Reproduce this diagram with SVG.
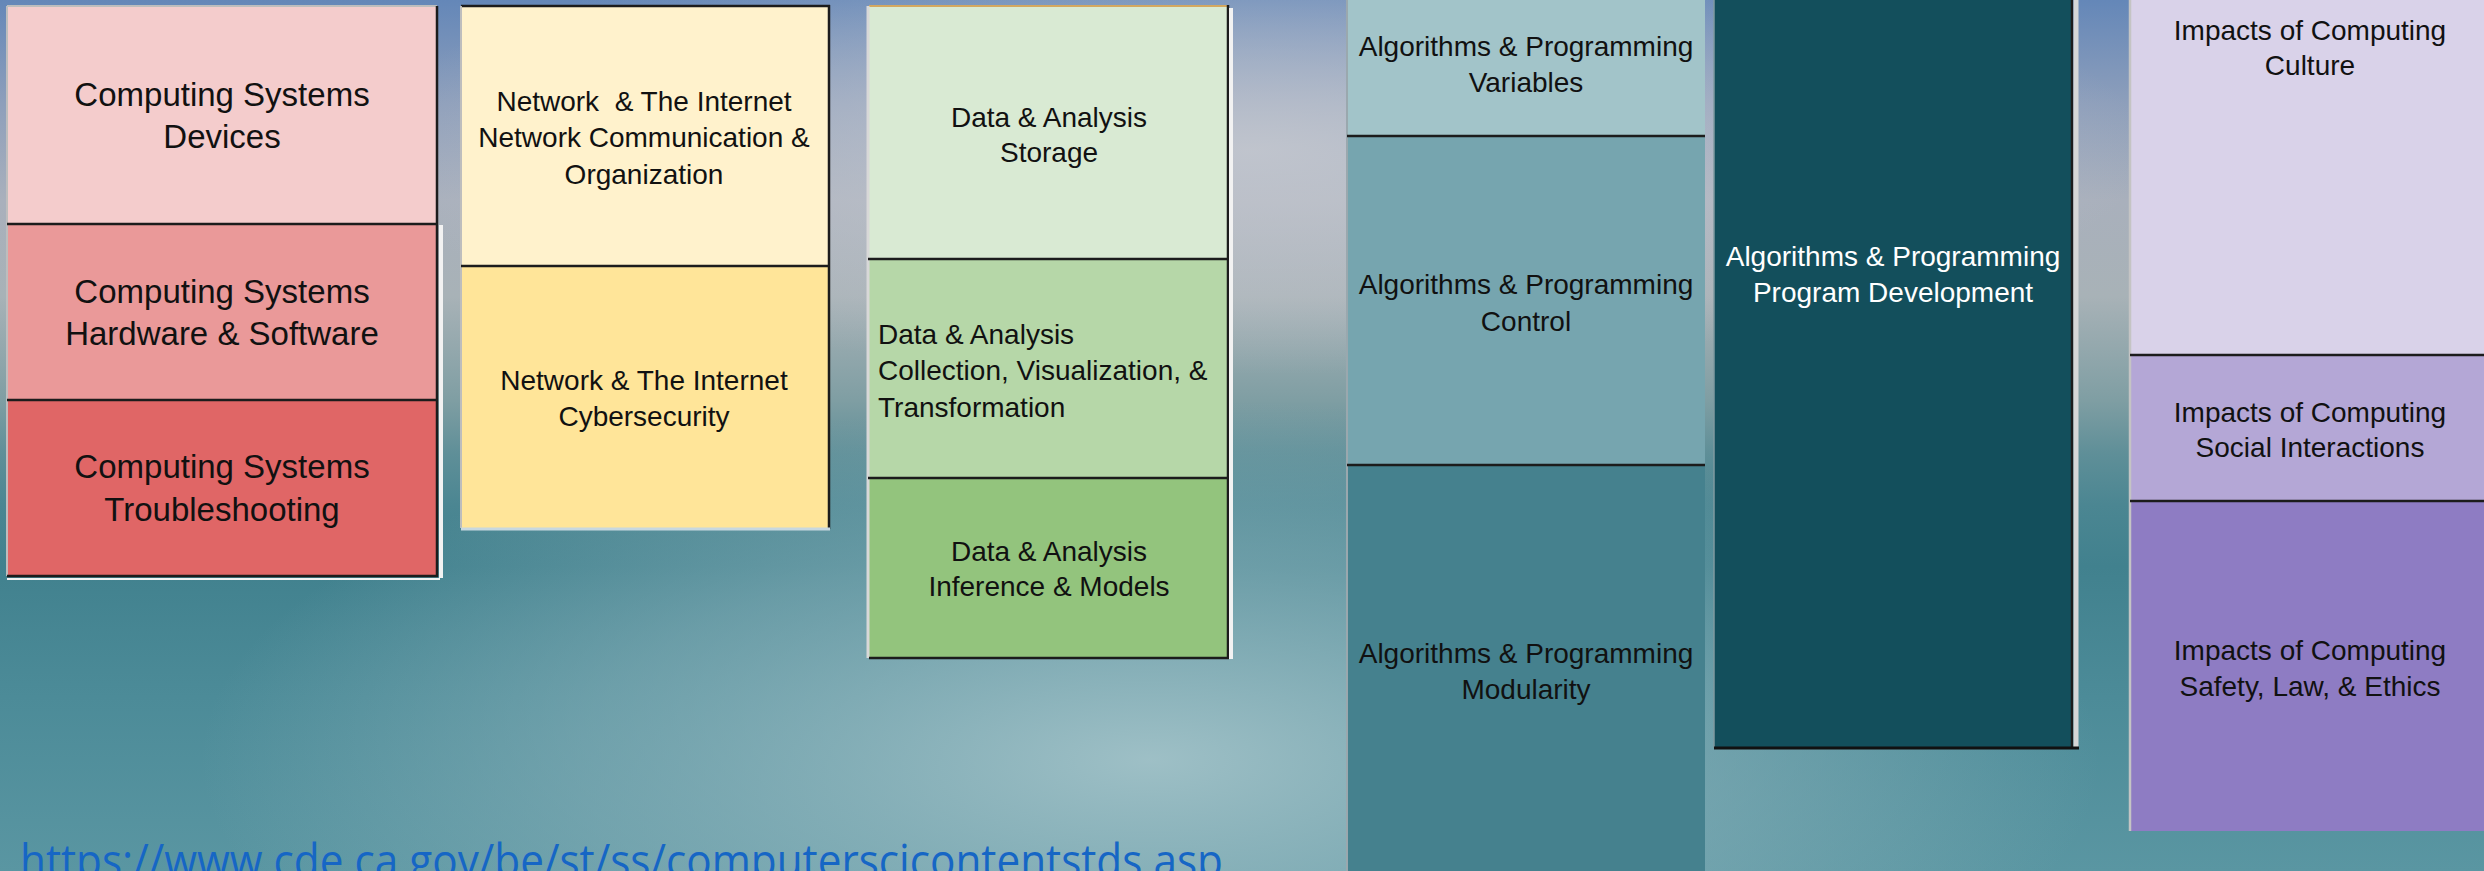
<svg xmlns="http://www.w3.org/2000/svg" width="2484" height="871" viewBox="0 0 2484 871">
<defs>
<linearGradient id="bg" x1="0" y1="0" x2="0" y2="871" gradientUnits="userSpaceOnUse">
<stop offset="0" stop-color="#6487b8"/>
<stop offset="0.12" stop-color="#8e9fbb"/>
<stop offset="0.23" stop-color="#a9b0bc"/>
<stop offset="0.34" stop-color="#a8b2b7"/>
<stop offset="0.46" stop-color="#7f9ea3"/>
<stop offset="0.52" stop-color="#5f8f98"/>
<stop offset="0.58" stop-color="#4b8692"/>
<stop offset="0.65" stop-color="#41818e"/>
<stop offset="0.8" stop-color="#4c8b98"/>
<stop offset="1" stop-color="#5a96a2"/>
</linearGradient>
<radialGradient id="hiTop" cx="1250" cy="150" r="900" gradientUnits="userSpaceOnUse" gradientTransform="translate(1250 150) scale(1 0.25) translate(-1250 -150)">
<stop offset="0" stop-color="#c6c9d0" stop-opacity="0.85"/>
<stop offset="1" stop-color="#c6c9d0" stop-opacity="0"/>
</radialGradient>
<radialGradient id="hiBot" cx="1150" cy="760" r="950" gradientUnits="userSpaceOnUse" gradientTransform="translate(1150 760) scale(1 0.38) translate(-1150 -760)">
<stop offset="0" stop-color="#a2c2c8" stop-opacity="0.95"/>
<stop offset="0.6" stop-color="#8fb4bc" stop-opacity="0.5"/>
<stop offset="1" stop-color="#8fb4bc" stop-opacity="0"/>
</radialGradient>
<style>
.t{font-family:"Liberation Sans",Arial,sans-serif;fill:#111;text-anchor:middle}
.f33{font-size:33px}
.f28{font-size:28px}
.w{fill:#fff}
.l{text-anchor:start}
.dk{stroke:#1c1c1c;stroke-width:2.5;fill:none}
.lt{stroke:#f2f2f2;stroke-width:4;fill:none}
.gr{stroke:#bdbdbd;stroke-width:2;fill:none}
</style>
</defs>
<g id="background">
<rect x="0" y="0" width="2484" height="871" fill="url(#bg)"/>
<rect x="0" y="0" width="2484" height="871" fill="url(#hiTop)"/>
<rect x="0" y="0" width="2484" height="871" fill="url(#hiBot)"/>
</g>

<g id="cs-devices">
<rect x="7" y="6" width="430" height="218" fill="#f4cccc"/>
<text class="t f33" x="222" y="106">Computing Systems</text>
<text class="t f33" x="222" y="148">Devices</text>
</g>
<g id="cs-hardware">
<rect x="7" y="224" width="430" height="176" fill="#ea9999"/>
<text class="t f33" x="222" y="303">Computing Systems</text>
<text class="t f33" x="222" y="345">Hardware &amp; Software</text>
</g>
<g id="cs-troubleshooting">
<rect x="7" y="400" width="430" height="176" fill="#e06666"/>
<text class="t f33" x="222" y="478">Computing Systems</text>
<text class="t f33" x="222" y="521">Troubleshooting</text>
</g>
<g id="cs-borders">
<line class="gr" x1="7" y1="6" x2="437" y2="6"/>
<line class="gr" x1="7" y1="6" x2="7" y2="576"/>
<line class="dk" x1="7" y1="224" x2="438" y2="224"/>
<line class="dk" x1="7" y1="400" x2="438" y2="400"/>
<line class="dk" x1="7" y1="576" x2="438" y2="576"/>
<line class="dk" x1="437" y1="6" x2="437" y2="577"/>
<line class="lt" x1="441" y1="225" x2="441" y2="578"/>
<line class="lt" x1="7" y1="579" x2="440" y2="579" style="stroke-width:2"/>
</g>

<g id="ni-communication">
<rect x="461" y="6" width="368" height="260" fill="#fff2cc"/>
<text class="t f28" x="644" y="111" xml:space="preserve">Network  &amp; The Internet</text>
<text class="t f28" x="644" y="147">Network Communication &amp;</text>
<text class="t f28" x="644" y="184">Organization</text>
</g>
<g id="ni-cybersecurity">
<rect x="461" y="266" width="368" height="262" fill="#ffe599"/>
<text class="t f28" x="644" y="390">Network &amp; The Internet</text>
<text class="t f28" x="644" y="426">Cybersecurity</text>
</g>
<g id="ni-borders">
<line class="dk" x1="461" y1="6" x2="830" y2="6"/>
<line class="gr" x1="461" y1="6" x2="461" y2="528"/>
<line class="dk" x1="461" y1="266" x2="830" y2="266"/>
<line class="dk" x1="829" y1="5" x2="829" y2="529"/>
<line x1="461" y1="529" x2="830" y2="529" stroke="#c8d8e0" stroke-width="3"/>
</g>

<g id="da-storage">
<rect x="869" y="6" width="359" height="253" fill="#d9ead3"/>
<text class="t f28" x="1049" y="127">Data &amp; Analysis</text>
<text class="t f28" x="1049" y="162">Storage</text>
</g>
<g id="da-collection">
<rect x="869" y="259" width="359" height="219" fill="#b6d7a8"/>
<text class="t f28 l" x="878" y="344">Data &amp; Analysis</text>
<text class="t f28 l" x="878" y="380">Collection, Visualization, &amp;</text>
<text class="t f28 l" x="878" y="417">Transformation</text>
</g>
<g id="da-inference">
<rect x="869" y="478" width="359" height="180" fill="#93c47d"/>
<text class="t f28" x="1049" y="561">Data &amp; Analysis</text>
<text class="t f28" x="1049" y="596">Inference &amp; Models</text>
</g>
<g id="da-borders">
<line x1="869" y1="6" x2="1229" y2="6" stroke="#d4a860" stroke-width="2"/>
<line class="lt" x1="868" y1="6" x2="868" y2="658" style="stroke:#d8d8d8;stroke-width:3"/>
<line class="dk" x1="868" y1="259" x2="1229" y2="259"/>
<line class="dk" x1="868" y1="478" x2="1229" y2="478"/>
<line class="dk" x1="869" y1="658" x2="1229" y2="658"/>
<line class="dk" x1="1228" y1="5" x2="1228" y2="659"/>
<line class="lt" x1="1231" y1="8" x2="1231" y2="659"/>
</g>

<g id="ap-variables">
<rect x="1347" y="0" width="358" height="136" fill="#a2c4c9"/>
<text class="t f28" x="1526" y="56">Algorithms &amp; Programming</text>
<text class="t f28" x="1526" y="92">Variables</text>
</g>
<g id="ap-control">
<rect x="1347" y="136" width="358" height="329" fill="#76a5af"/>
<text class="t f28" x="1526" y="294">Algorithms &amp; Programming</text>
<text class="t f28" x="1526" y="331">Control</text>
</g>
<g id="ap-modularity">
<rect x="1347" y="465" width="358" height="406" fill="#45818e"/>
<text class="t f28" x="1526" y="663">Algorithms &amp; Programming</text>
<text class="t f28" x="1526" y="699">Modularity</text>
</g>
<g id="ap-borders">
<line class="gr" x1="1347" y1="0" x2="1347" y2="871" style="stroke:#9aa8ae"/>
<line class="dk" x1="1347" y1="136" x2="1705" y2="136"/>
<line class="dk" x1="1347" y1="465" x2="1705" y2="465"/>
</g>

<g id="ap-program-development">
<rect x="1714" y="0" width="359" height="748" fill="#134f5c"/>
<text class="t f28 w" x="1893" y="266">Algorithms &amp; Programming</text>
<text class="t f28 w" x="1893" y="302">Program Development</text>
<line class="gr" x1="1714" y1="0" x2="1714" y2="748" style="stroke:#7f9aa0;stroke-width:1.5"/>
<line class="dk" x1="2072" y1="0" x2="2072" y2="749"/>
<line x1="2076" y1="0" x2="2076" y2="749" stroke="#d6d6d6" stroke-width="5"/>
<line x1="1714" y1="748" x2="2079" y2="748" stroke="#111" stroke-width="3"/>
</g>

<g id="ic-culture">
<rect x="2131" y="0" width="353" height="355" fill="#d9d2e9"/>
<text class="t f28" x="2310" y="40">Impacts of Computing</text>
<text class="t f28" x="2310" y="75">Culture</text>
</g>
<g id="ic-social">
<rect x="2131" y="355" width="353" height="146" fill="#b4a7d6"/>
<text class="t f28" x="2310" y="422">Impacts of Computing</text>
<text class="t f28" x="2310" y="457">Social Interactions</text>
</g>
<g id="ic-safety">
<rect x="2131" y="501" width="353" height="330" fill="#8e7cc3"/>
<text class="t f28" x="2310" y="660">Impacts of Computing</text>
<text class="t f28" x="2310" y="696">Safety, Law, &amp; Ethics</text>
</g>
<g id="ic-borders">
<line class="gr" x1="2130" y1="0" x2="2130" y2="831" style="stroke:#c4c4c4;stroke-width:2.5"/>
<line class="dk" x1="2130" y1="355" x2="2484" y2="355"/>
<line class="dk" x1="2130" y1="501" x2="2484" y2="501"/>
</g>

<g id="connectors"/>

<text id="url" x="20" y="877" font-family="'Open Sans','Noto Sans',sans-serif" font-size="46" fill="#1666c5" textLength="1203" lengthAdjust="spacingAndGlyphs">https://www.cde.ca.gov/be/st/ss/computerscicontentstds.asp</text>
</svg>
